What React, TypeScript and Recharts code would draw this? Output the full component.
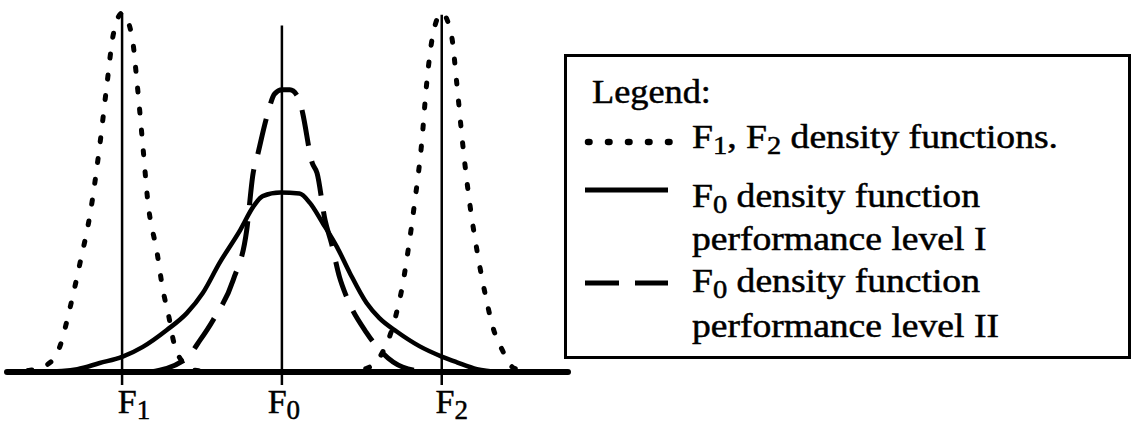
import { LineChart, Line, XAxis, YAxis, ReferenceLine, Legend } from 'recharts';

// x: F0 = 0, F1 = -1, F2 = 1 ; y: density, peak of F1/F2 = 1
const f1Density: [number, number][] = [
  [-1.72, 0], [-1.575, 0.005], [-1.47, 0.02], [-1.39, 0.07], [-1.325, 0.18], [-1.26, 0.31],
  [-1.2, 0.44], [-1.14, 0.63], [-1.095, 0.8], [-1.055, 0.94], [-1.0, 1.0], [-0.94, 0.94],
  [-0.905, 0.8], [-0.87, 0.63], [-0.84, 0.48], [-0.78, 0.33], [-0.745, 0.23], [-0.71, 0.16],
  [-0.675, 0.08], [-0.625, 0.03], [-0.545, 0.005], [-0.36, 0],
];

const f2Density: [number, number][] = [
  [0.395, 0], [0.53, 0.01], [0.69, 0.12], [0.72, 0.17], [0.75, 0.23], [0.79, 0.34],
  [0.83, 0.47], [0.875, 0.64], [0.905, 0.8], [0.945, 0.94], [1.0, 1.0], [1.06, 0.94],
  [1.095, 0.8], [1.13, 0.64], [1.175, 0.47], [1.22, 0.34], [1.28, 0.2], [1.32, 0.125],
  [1.38, 0.06], [1.455, 0.01], [1.595, 0], [1.79, 0],
];

const f0LevelI: [number, number][] = [
  [-1.51, 0], [-1.28, 0.008], [-1.14, 0.025], [-1.0, 0.042], [-0.87, 0.07], [-0.72, 0.117],
  [-0.595, 0.164], [-0.495, 0.22], [-0.39, 0.304], [-0.26, 0.396], [-0.18, 0.46], [-0.12, 0.49],
  [-0.01, 0.5], [0.11, 0.497], [0.175, 0.471], [0.255, 0.415], [0.345, 0.348], [0.425, 0.276],
  [0.53, 0.192], [0.61, 0.15], [0.72, 0.112], [0.86, 0.072], [1.0, 0.043], [1.095, 0.027],
  [1.22, 0.008], [1.36, 0],
];

const f0LevelII: [number, number][] = [
  [-0.825, 0], [-0.605, 0.035], [-0.51, 0.09], [-0.43, 0.145], [-0.305, 0.256], [-0.22, 0.396],
  [-0.18, 0.554], [-0.155, 0.599], [-0.095, 0.71], [-0.045, 0.775], [0, 0.786], [0.05, 0.786],
  [0.11, 0.758], [0.13, 0.721], [0.19, 0.582], [0.22, 0.554], [0.27, 0.423], [0.31, 0.359],
  [0.36, 0.265], [0.405, 0.209], [0.53, 0.109], [0.595, 0.07], [0.755, 0.014], [0.92, 0],
];

const centers = [-1, 0, 1];
const centerTops = [1.0, 0.965, 0.995];
const tickSubs = ['1', '0', '2'];

const legendTitle = 'Legend:';
const legendRows = [
  { style: 'dotted', lines: [[['F', ''], ['1', 'sub'], [', F', ''], ['2', 'sub'], [' density functions.', '']]] },
  { style: 'solid', lines: [[['F', ''], ['0', 'sub'], [' density function', '']], [['performance level I', '']]] },
  { style: 'dashed', lines: [[['F', ''], ['0', 'sub'], [' density function', '']], [['performance level II', '']]] },
];

const FONT = '"Liberation Serif", "Times New Roman", serif';

const toRows = (pts: [number, number][]) => pts.map(([x, y]) => ({ x, y }));

const dashFor: Record<string, { dash?: string; width: number }> = {
  dotted: { dash: '1.5 18.5', width: 6.5 },
  solid: { width: 5 },
  dashed: { dash: '34 16', width: 5 },
};

function FTick(props: any) {
  const { x, y, index } = props;
  const shift = [12, 2, 10][index] ?? 0;
  return (
    <text x={x + shift} y={y + 26} textAnchor="middle" fontFamily={FONT} fontSize={34} fill="#000"
      stroke="#000" strokeWidth={0.5}>
      F<tspan dy={6} fontSize={27}>{tickSubs[index]}</tspan>
    </text>
  );
}

function LegendBox() {
  const baselines = [[94], [153, 196], [238, 283]];
  const sampleY = [88, 136, 229];
  return (
    <svg width={567} height={305} style={{ display: 'block' }}>
      <rect x={1.5} y={1.5} width={564} height={302} fill="#fff" stroke="#000" strokeWidth={3} />
      <g transform="translate(28,0) scale(1.1,1)">
        <text x={0} y={49} fontFamily={FONT} fontSize={33} fill="#000" stroke="#000" strokeWidth={0.5}>
          {legendTitle}
        </text>
      </g>
      {legendRows.map((row, i) => {
        const d = dashFor[row.style];
        return (
          <g key={i}>
            <line x1={row.style === 'dotted' ? 24 : 21} x2={row.style === 'dotted' ? 108 : 104}
              y1={sampleY[i]} y2={sampleY[i]} stroke="#000" strokeWidth={d.width}
              strokeDasharray={d.dash} strokeLinecap={row.style === 'dotted' ? 'round' : 'butt'} />
            {row.lines.map((parts, j) => (
              <g key={j} transform="translate(128,0) scale(1.14,1)">
                <text x={0} y={baselines[i][j]} fontFamily={FONT} fontSize={33} fill="#000"
                  stroke="#000" strokeWidth={0.5}>
                  {parts.map(([t, kind], k) => (
                    <tspan key={k} dy={kind === 'sub' ? 6 : k > 0 && parts[k - 1][1] === 'sub' ? -6 : 0}
                      fontSize={kind === 'sub' ? 25 : 33}>{t}</tspan>
                  ))}
                </text>
              </g>
            ))}
          </g>
        );
      })}
    </svg>
  );
}

export default function App() {
  return (
    <div style={{ position: 'absolute', left: 0, top: 0, width: 1140, height: 433, background: '#fff' }}>
      <LineChart width={1140} height={433} margin={{ top: 13, right: 572, left: 7, bottom: 1 }}>
        <XAxis
          type="number"
          dataKey="x"
          domain={[-1.72, 1.79]}
          ticks={centers}
          height={60}
          tickSize={13}
          tickLine={{ stroke: '#000', strokeWidth: 2.5 }}
          axisLine={{ stroke: '#000', strokeWidth: 6, strokeLinecap: 'round' }}
          tick={<FTick />}
          allowDataOverflow
        />
        <YAxis hide type="number" domain={[0, 1]} />
        {centers.map((c, i) => (
          <ReferenceLine key={c} segment={[{ x: c, y: 0 }, { x: c, y: centerTops[i] }]}
            stroke="#000" strokeWidth={2.5} ifOverflow="visible" />
        ))}
        <Line data={toRows(f1Density)} dataKey="y" type="monotone" dot={false} stroke="#000" strokeWidth={5}
          strokeDasharray="4 17" strokeLinecap="round" isAnimationActive={false} legendType="none" />
        <Line data={toRows(f2Density)} dataKey="y" type="monotone" dot={false} stroke="#000" strokeWidth={5}
          strokeDasharray="4 17" strokeLinecap="round" isAnimationActive={false} legendType="none" />
        <Line data={toRows(f0LevelI)} dataKey="y" type="monotone" dot={false} stroke="#000" strokeWidth={4.5}
          isAnimationActive={false} legendType="none" />
        <Line data={toRows(f0LevelII)} dataKey="y" type="monotone" dot={false} stroke="#000" strokeWidth={5}
          strokeDasharray="36 16" isAnimationActive={false} legendType="none" />
        <Legend layout="vertical" align="center" verticalAlign="middle" content={() => <LegendBox />}
          wrapperStyle={{ left: 564, top: 54, width: 567, height: 305 }} />
      </LineChart>
    </div>
  );
}
